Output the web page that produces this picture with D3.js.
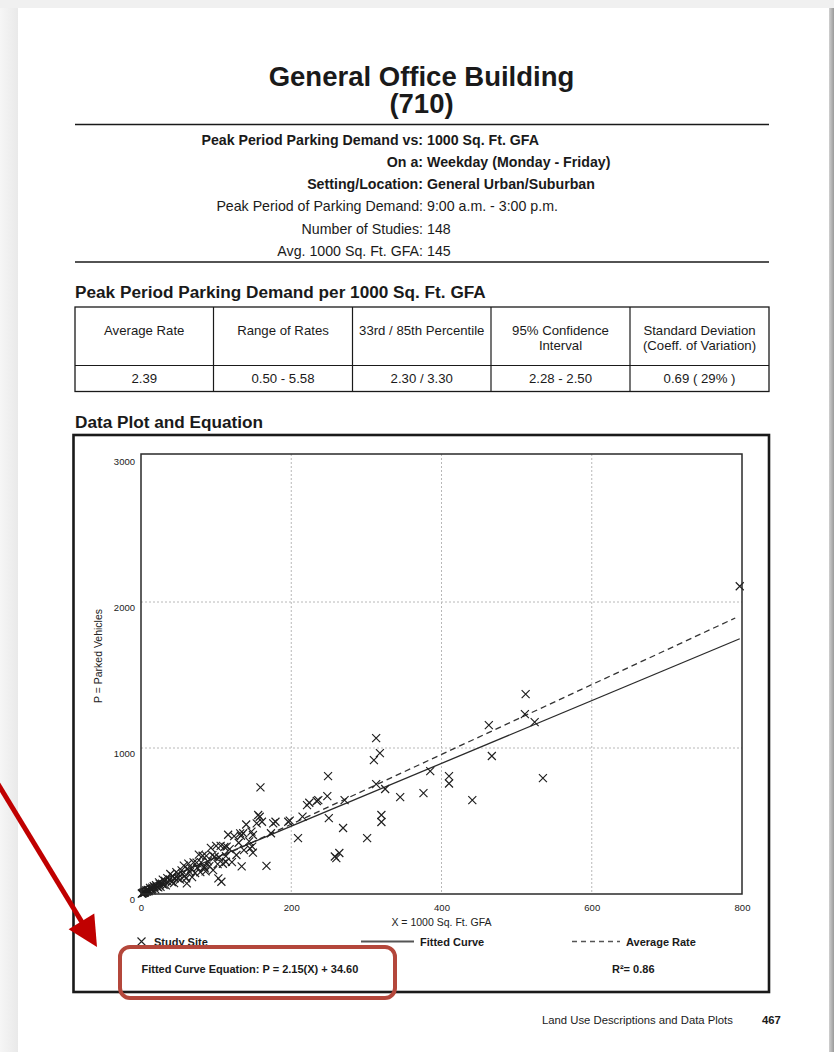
<!DOCTYPE html>
<html>
<head>
<meta charset="utf-8">
<title>General Office Building (710)</title>
<script src="https://cdn.jsdelivr.net/npm/d3@7"></script>
<style>
  html, body { margin: 0; padding: 0; background: #ffffff; }
  svg { display: block; font-family: "Liberation Sans", Arial, Helvetica, sans-serif; }
</style>
</head>
<body>
<svg id="page" width="834" height="1052"></svg>
<script>
// ---- Page text ----
const titleLines = ["General Office Building", "(710)"];
const infoLabels = ["Peak Period Parking Demand vs:", "On a:", "Setting/Location:",
                    "Peak Period of Parking Demand:", "Number of Studies:", "Avg. 1000 Sq. Ft. GFA:"];
const infoValues = ["1000 Sq. Ft. GFA", "Weekday (Monday - Friday)", "General Urban/Suburban",
                    "9:00 a.m. - 3:00 p.m.", "148", "145"];
const infoBold = [true, true, true, false, false, false];

// ---- Rate table ----
const tableHeaders = [["Average Rate"], ["Range of Rates"], ["33rd / 85th Percentile"],
                      ["95% Confidence", "Interval"], ["Standard Deviation", "(Coeff. of Variation)"]];
const tableValues = ["2.39", "0.50 - 5.58", "2.30 / 3.30", "2.28 - 2.50", "0.69 ( 29% )"];

// ---- Plot axes ----
const xTicks = [0, 200, 400, 600, 800];
const yTicks = [0, 1000, 2000, 3000];
const xDomain = [0, 800];
const yDomain = [0, 3000];

// ---- Study sites: X = 1000 Sq. Ft. GFA, P = parked vehicles ----
const siteGFA = [
  797, 512, 511, 524, 463, 467, 535, 441, 410, 410, 385, 376, 345, 313, 318, 310, 313, 325, 320, 320,
  301, 249, 248, 250, 269, 260, 264, 258, 234, 209, 271, 224, 221, 236, 215, 198, 196, 179, 176, 173,
  159, 167, 134, 107, 103, 85, 61, 158, 154, 161, 149, 145, 132, 114, 113, 156, 147, 148, 136,
  1, 2, 2, 3, 4, 5, 5, 6, 7, 8, 9, 9, 10, 11, 12, 13, 14, 15, 15, 17,
  18, 19, 20, 21, 23, 24, 25, 26, 28, 29, 30, 32, 33, 35, 36, 38, 39, 41, 42, 44,
  45, 47, 49, 50, 52, 54, 55, 57, 58, 60, 62, 63, 65, 67, 68, 70, 72, 74, 75, 77,
  79, 80, 82, 84, 86, 87, 89, 91, 93, 95, 96, 98, 100, 102, 104, 106, 109, 111, 113, 116,
  118, 121, 124, 127, 130, 133, 137, 140, 144, 149
];
const siteVehicles = [
  2108, 1369, 1232, 1177, 1157, 945, 794, 643, 808, 757, 842, 691, 664, 1068, 965, 917, 753, 719, 541, 493,
  383, 808, 671, 520, 452, 246, 281, 257, 637, 383, 643, 625, 609, 643, 530, 502, 495, 495, 484, 416,
  730, 193, 189, 84, 107, 176, 73, 529, 484, 495, 404, 313, 415, 324, 221, 541, 427, 325, 416,
  3, 4, 5, 10, 8, 15, 9, 14, 24, 16, 24, 28, 19, 25, 42, 33, 25, 44, 33, 54,
  47, 32, 60, 50, 46, 79, 68, 49, 70, 99, 63, 90, 59, 109, 83, 99, 137, 82, 122, 75,
  108, 150, 108, 135, 99, 162, 138, 194, 122, 108, 174, 208, 150, 174, 116, 217, 144, 215, 180, 270,
  150, 216, 262, 185, 155, 261, 223, 191, 316, 266, 163, 255, 330, 204, 250, 329, 207, 322, 260, 406,
  307, 218, 397, 267, 351, 399, 301, 476, 360, 283
];

// ---- Equations ----
const fittedSlope = 2.15;
const fittedIntercept = 34.60;
const averageRate = 2.39;
const rSquared = "0.86";

const svg = d3.select("#page");
const INK = "#1a1a1a";

// ---- Page sheet with its edge shading ----
const defs = svg.append("defs");
const leftGrad = defs.append("linearGradient").attr("id", "leftEdge").attr("x1", 0).attr("x2", 1);
leftGrad.append("stop").attr("offset", 0).attr("stop-color", "#f6f6f6");
leftGrad.append("stop").attr("offset", 1).attr("stop-color", "#e9e9e9");
const rightGrad = defs.append("linearGradient").attr("id", "rightEdge").attr("x1", 0).attr("x2", 1);
rightGrad.append("stop").attr("offset", 0).attr("stop-color", "#d0d0d0");
rightGrad.append("stop").attr("offset", 1).attr("stop-color", "#9a9a9a");

svg.append("rect").attr("x", 0).attr("y", 0).attr("width", 834).attr("height", 1052).attr("fill", "#f0f0f0");
svg.append("rect").attr("x", 0).attr("y", 8).attr("width", 18).attr("height", 1044).attr("fill", "url(#leftEdge)");
svg.append("rect").attr("x", 18).attr("y", 8).attr("width", 811).attr("height", 1044).attr("fill", "#ffffff");
svg.append("rect").attr("x", 829).attr("y", 8).attr("width", 5).attr("height", 1044).attr("fill", "url(#rightEdge)");

// ---- Title ----
svg.selectAll("text.title").data(titleLines).join("text")
  .attr("class", "title")
  .attr("x", 421.5).attr("y", (d, i) => 86 + i * 27)
  .attr("text-anchor", "middle")
  .attr("font-size", 27.5).attr("font-weight", "bold").attr("fill", INK)
  .text(d => d);

svg.append("line").attr("x1", 75).attr("x2", 769).attr("y1", 124.5).attr("y2", 124.5)
  .attr("stroke", INK).attr("stroke-width", 1.6);

// ---- Info block ----
const infoRows = svg.append("g");
infoLabels.forEach((lab, i) => {
  const y = 144.5 + i * 22.3;
  infoRows.append("text").attr("x", 423).attr("y", y).attr("text-anchor", "end")
    .attr("font-size", 14.2).attr("font-weight", infoBold[i] ? "bold" : "normal").attr("fill", INK)
    .text(lab);
  infoRows.append("text").attr("x", 427).attr("y", y)
    .attr("font-size", 14.2).attr("font-weight", infoBold[i] ? "bold" : "normal").attr("fill", INK)
    .text(infoValues[i]);
});

svg.append("line").attr("x1", 75).attr("x2", 769).attr("y1", 262).attr("y2", 262)
  .attr("stroke", INK).attr("stroke-width", 1.6);

// ---- Rate table ----
svg.append("text").attr("x", 75).attr("y", 297.5)
  .attr("font-size", 17.2).attr("font-weight", "bold").attr("fill", INK)
  .text("Peak Period Parking Demand per 1000 Sq. Ft. GFA");

const colEdges = [75, 213.5, 352.5, 491, 630, 769];
const tTop = 307, tMid = 365.5, tBot = 391.5;
const table = svg.append("g");
table.append("rect").attr("x", colEdges[0]).attr("y", tTop)
  .attr("width", colEdges[5] - colEdges[0]).attr("height", tBot - tTop)
  .attr("fill", "none").attr("stroke", INK).attr("stroke-width", 1.3);
table.append("line").attr("x1", colEdges[0]).attr("x2", colEdges[5]).attr("y1", tMid).attr("y2", tMid)
  .attr("stroke", INK).attr("stroke-width", 1.2);
colEdges.slice(1, 5).forEach(cx => {
  table.append("line").attr("x1", cx).attr("x2", cx).attr("y1", tTop).attr("y2", tBot)
    .attr("stroke", INK).attr("stroke-width", 1.2);
});
tableHeaders.forEach((lines, i) => {
  const cx = (colEdges[i] + colEdges[i + 1]) / 2;
  lines.forEach((ln, j) => {
    table.append("text").attr("x", cx).attr("y", 334.5 + j * 15)
      .attr("text-anchor", "middle").attr("font-size", 13.2).attr("fill", INK).text(ln);
  });
  table.append("text").attr("x", cx).attr("y", 383)
    .attr("text-anchor", "middle").attr("font-size", 13.2).attr("fill", INK).text(tableValues[i]);
});

// ---- Data plot panel ----
svg.append("text").attr("x", 75).attr("y", 428)
  .attr("font-size", 17.2).attr("font-weight", "bold").attr("fill", INK)
  .text("Data Plot and Equation");

svg.append("rect").attr("x", 73.5).attr("y", 435).attr("width", 695.5).attr("height", 557)
  .attr("fill", "none").attr("stroke", INK).attr("stroke-width", 2.6);

const plot = { left: 141, right: 742, top: 456, bottom: 894 };
const x = d3.scaleLinear().domain(xDomain).range([plot.left, plot.right]);
const y = d3.scaleLinear().domain(yDomain).range([plot.bottom, plot.top]);

// dotted grid
const grid = svg.append("g").attr("stroke", "#b8b8b8").attr("stroke-width", 1).attr("stroke-dasharray", "2,2");
xTicks.filter(t => t > xDomain[0] && t < xDomain[1]).forEach(t => {
  grid.append("line").attr("x1", x(t)).attr("x2", x(t)).attr("y1", plot.top - 2).attr("y2", plot.bottom);
});
yTicks.filter(t => t > yDomain[0] && t < yDomain[1]).forEach(t => {
  grid.append("line").attr("x1", plot.left).attr("x2", plot.right).attr("y1", y(t)).attr("y2", y(t));
});

// axes (labels only; the frame is drawn separately)
const xAxis = svg.append("g").attr("transform", `translate(0,${plot.bottom})`)
  .call(d3.axisBottom(x).tickValues(xTicks).tickSize(0).tickPadding(10).tickFormat(d3.format("d")));
const yAxis = svg.append("g").attr("transform", `translate(${plot.left},0)`)
  .call(d3.axisLeft(y).tickValues(yTicks).tickSize(0).tickPadding(6).tickFormat(d3.format("d")));
[xAxis, yAxis].forEach(ax => {
  ax.select(".domain").remove();
  ax.selectAll("text").attr("font-family", "\"Liberation Sans\", Arial, sans-serif")
    .attr("font-size", 9.5).attr("fill", "#222");
});
yAxis.selectAll("text").attr("dy", "0.9em");

// fitted curve and average rate lines
const xMin = d3.min(siteGFA), xMax = d3.max(siteGFA);
const fitLine = d3.line().x(d => x(d)).y(d => y(fittedSlope * d + fittedIntercept));
const avgLine = d3.line().x(d => x(d)).y(d => y(averageRate * d));
svg.append("path").attr("d", avgLine([xMin, xMax - 6]))
  .attr("fill", "none").attr("stroke", "#333").attr("stroke-width", 1.3).attr("stroke-dasharray", "6,4");
svg.append("path").attr("d", fitLine([xMin, xMax]))
  .attr("fill", "none").attr("stroke", "#2a2a2a").attr("stroke-width", 1.3);

// study site markers
const mk = 4;
const sites = siteGFA.map((g, i) => ({ gfa: g, veh: siteVehicles[i] }));
svg.append("g").attr("stroke", "#1e1e1e").attr("stroke-width", 1.15).attr("fill", "none")
  .selectAll("path").data(sites).join("path")
  .attr("d", d => {
    const cx = x(d.gfa), cy = y(d.veh);
    return `M${cx - mk},${cy - mk}L${cx + mk},${cy + mk}M${cx - mk},${cy + mk}L${cx + mk},${cy - mk}`;
  });

// plot frame
svg.append("rect").attr("x", plot.left).attr("y", plot.top - 2)
  .attr("width", plot.right - plot.left).attr("height", plot.bottom - plot.top + 2)
  .attr("fill", "none").attr("stroke", "#2a2a2a").attr("stroke-width", 1.5);

// axis titles
svg.append("text").attr("x", (plot.left + plot.right) / 2).attr("y", 926)
  .attr("text-anchor", "middle").attr("font-size", 10.5).attr("fill", "#222")
  .text("X = 1000 Sq. Ft. GFA");
svg.append("text").attr("transform", "translate(102,656) rotate(-90)")
  .attr("text-anchor", "middle").attr("font-size", 10.5).attr("fill", "#222")
  .text("P = Parked Vehicles");

// legend
const legend = svg.append("g").attr("font-size", 11).attr("font-weight", "bold").attr("fill", INK);
legend.append("path")
  .attr("d", `M${141.5 - mk},${941.5 - mk}L${141.5 + mk},${941.5 + mk}M${141.5 - mk},${941.5 + mk}L${141.5 + mk},${941.5 - mk}`)
  .attr("stroke", "#222").attr("stroke-width", 1.1);
legend.append("text").attr("x", 154).attr("y", 945.5).text("Study Site");
legend.append("line").attr("x1", 361).attr("x2", 414).attr("y1", 941.5).attr("y2", 941.5)
  .attr("stroke", "#555").attr("stroke-width", 2);
legend.append("text").attr("x", 420).attr("y", 945.5).text("Fitted Curve");
legend.append("line").attr("x1", 572).attr("x2", 620).attr("y1", 941.5).attr("y2", 941.5)
  .attr("stroke", "#555").attr("stroke-width", 1.3).attr("stroke-dasharray", "5,4");
legend.append("text").attr("x", 626).attr("y", 945.5).text("Average Rate");

legend.append("text").attr("x", 141.5).attr("y", 973)
  .text(`Fitted Curve Equation: P = ${fittedSlope.toFixed(2)}(X) + ${fittedIntercept.toFixed(2)}`);
legend.append("text").attr("x", 612).attr("y", 973).text(`R²= ${rSquared}`);

// ---- Footer ----
svg.append("text").attr("x", 542).attr("y", 1024).attr("font-size", 11.3).attr("fill", INK)
  .text("Land Use Descriptions and Data Plots");
svg.append("text").attr("x", 762).attr("y", 1024).attr("font-size", 11.3).attr("font-weight", "bold")
  .attr("fill", INK).text("467");

// ---- Highlight callout on the equation ----
svg.append("rect").attr("x", 120).attr("y", 947).attr("width", 275).attr("height", 51)
  .attr("rx", 10).attr("ry", 10)
  .attr("fill", "none").attr("stroke", "#b4473b").attr("stroke-width", 4);
const tip = [97, 947], tail = [-2, 784];
const len = Math.hypot(tip[0] - tail[0], tip[1] - tail[1]);
const ux = (tip[0] - tail[0]) / len, uy = (tip[1] - tail[1]) / len;
const headLen = 30, headHalf = 15;
const base = [tip[0] - ux * headLen, tip[1] - uy * headLen];
svg.append("line").attr("x1", tail[0]).attr("y1", tail[1]).attr("x2", base[0] + ux * 2).attr("y2", base[1] + uy * 2)
  .attr("stroke", "#c00000").attr("stroke-width", 5);
svg.append("path")
  .attr("d", `M${tip[0]},${tip[1]}L${base[0] - uy * headHalf},${base[1] + ux * headHalf}L${base[0] + uy * headHalf},${base[1] - ux * headHalf}Z`)
  .attr("fill", "#c00000");
</script>
</body>
</html>
